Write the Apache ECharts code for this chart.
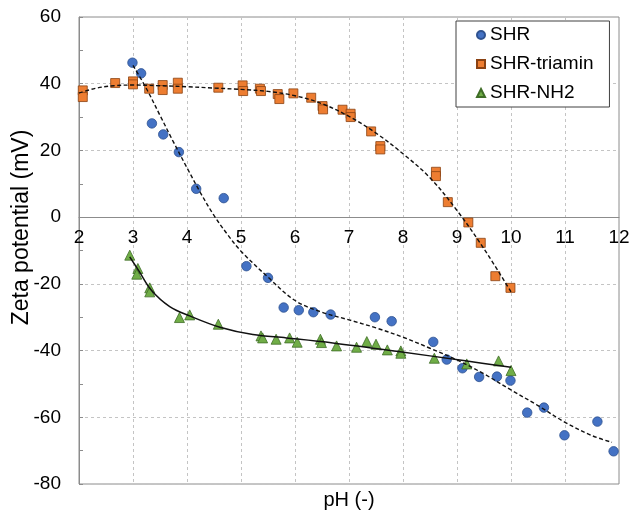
<!DOCTYPE html>
<html>
<head>
<meta charset="utf-8">
<script src="https://cdn.jsdelivr.net/npm/echarts@6/dist/echarts.min.js"></script>
<style>
html,body{margin:0;padding:0;background:#fff;}
#c{width:632px;height:510px;}
</style>
</head>
<body>
<div id="c"></div>
<script>
// ---- data ----
const seriesNames = ['SHR', 'SHR-triamin', 'SHR-NH2'];

const shrX = [2.99,3.15,3.35,3.56,3.85,4.17,4.68,5.10,5.50,5.79,6.07,6.34,6.66,7.48,7.79,8.56,8.81,9.10,9.41,9.74,9.99,10.30,10.61,10.99,11.60,11.90];
const shrY = [46.3,43.1,28.1,24.8,19.5,8.5,5.7,-14.7,-18.2,-27.1,-27.9,-28.5,-29.2,-30.0,-31.2,-37.4,-42.7,-45.3,-47.9,-47.8,-49.0,-58.6,-57.1,-65.4,-61.3,-70.2];

const triX = [2.07,2.07,2.67,3.0,3.0,3.30,3.55,3.55,3.83,3.83,4.58,5.03,5.04,5.35,5.37,5.68,5.71,5.97,6.30,6.51,6.52,6.88,7.03,7.03,7.41,7.58,7.58,8.61,8.61,8.83,9.21,9.44,9.71,9.99];
const triY = [38.0,36.0,40.2,40.7,39.8,38.5,39.6,38.1,40.3,38.5,38.8,39.5,37.8,38.5,37.8,36.9,35.4,37.1,35.8,33.3,32.3,32.2,31.0,30.0,25.7,21.3,20.3,13.6,12.3,4.5,-1.6,-7.7,-17.7,-21.2];

const nhX = [2.94,3.09,3.07,3.31,3.31,3.86,4.05,4.58,5.37,5.40,5.65,5.90,6.04,6.47,6.49,6.77,7.14,7.33,7.50,7.71,7.96,7.96,8.58,9.18,9.77,10.0];
const nhY = [-11.4,-15.4,-17.1,-21.2,-22.4,-30.1,-29.3,-32.1,-35.6,-36.2,-36.6,-36.2,-37.5,-36.6,-37.6,-38.6,-39.0,-37.3,-38.1,-39.8,-40.1,-40.8,-42.3,-44.0,-43.1,-46.0];

// trend lines
const shrTrendX = [3.0,3.25,3.5,3.75,4.0,4.25,4.5,4.75,5.0,5.5,6.0,6.5,7.0,7.5,8.0,8.5,9.0,9.5,10.0,10.5,11.0,11.5,11.87];
const shrTrendY = [45.5,38.5,30.5,22.5,14.8,7.3,0.5,-5.2,-10.2,-18.0,-25.0,-28.5,-30.8,-33.2,-36.0,-39.3,-42.8,-47.0,-51.8,-56.5,-61.5,-65.5,-67.5];

const triTrendX = [2.0,2.3,2.65,3.0,3.5,4.0,4.5,5.0,5.5,6.0,6.5,7.0,7.5,8.0,8.5,9.0,9.5,10.0];
const triTrendY = [37.2,38.6,39.4,39.6,39.4,39.1,38.7,38.3,37.7,36.4,34.0,30.2,25.2,19.0,11.8,2.0,-9.5,-22.4];

const nhTrendX = [2.94,3.12,3.34,3.68,4.05,4.61,5.22,5.84,6.7,7.88,9.12,10.0];
const nhTrendY = [-11.9,-16.4,-21.9,-26.8,-29.6,-33.0,-35.2,-36.2,-37.7,-40.2,-43.0,-45.0];

const xTicks = [2,3,4,5,6,7,8,9,10,11,12];
const yTicks = [60,40,20,0,-20,-40,-60,-80];

// ---- build ----
const zip = (a, b) => a.map((v, i) => [v, b[i]]);
const FONT = "'Liberation Sans', Arial, sans-serif";

const chart = echarts.init(document.getElementById('c'), null, {renderer: 'canvas'});

const scatterStyle = [
  {symbol: 'circle', size: 9.5, color: '#4472C4', border: '#2F528F'},
  {symbol: 'rect', size: 9, color: '#ED7D31', border: '#8a4213'},
  {symbol: 'triangle', size: 10, color: '#70AD47', border: '#3f6d27'}
];
const scatterData = [zip(shrX, shrY), zip(triX, triY), zip(nhX, nhY)];

const series = [];
seriesNames.forEach((n, i) => {
  series.push({
    name: n,
    type: 'scatter',
    symbol: scatterStyle[i].symbol,
    symbolSize: scatterStyle[i].size,
    itemStyle: {color: scatterStyle[i].color, borderColor: scatterStyle[i].border, borderWidth: 0.8, opacity: 1},
    data: scatterData[i],
    z: 3 + i,
    silent: true
  });
});

const trends = [
  {d: zip(shrTrendX, shrTrendY), type: [4, 2.5], w: 1.4},
  {d: zip(triTrendX, triTrendY), type: [4, 2.5], w: 1.4},
  {d: zip(nhTrendX, nhTrendY), type: 'solid', w: 1.5}
];
trends.forEach((t, i) => {
  series.push({
    name: seriesNames[i] + ' trend',
    type: 'line',
    data: t.d,
    smooth: 0.35,
    showSymbol: false,
    symbol: 'none',
    lineStyle: {color: '#111', width: t.w, type: t.type},
    z: 10,
    silent: true
  });
});

const option = {
  animation: false,
  backgroundColor: '#fff',
  textStyle: {fontFamily: FONT},
  grid: {
    left: 79, right: 13, top: 17, bottom: 26,
    containLabel: false,
    outerBoundsMode: 'none',
    show: true, borderColor: '#8c8c8c', borderWidth: 1, backgroundColor: 'transparent'
  },
  legend: {
    data: seriesNames,
    orient: 'vertical',
    left: 456, top: 21,
    padding: [4, 16, 4, 20],
    itemGap: 9,
    itemWidth: 8, itemHeight: 8,
    backgroundColor: '#fff',
    borderColor: '#404040', borderWidth: 1,
    textStyle: {fontFamily: FONT, fontSize: 19, color: '#000', lineHeight: 20},
    selectedMode: false
  },
  xAxis: {
    type: 'value',
    min: 2, max: 12, interval: 1,
    position: 'bottom',
    offset: -267,
    name: 'pH (-)',
    nameLocation: 'middle',
    nameGap: 273,
    nameMoveOverlap: false,
    nameTextStyle: {fontFamily: FONT, fontSize: 20, color: '#000'},
    axisLine: {show: true, onZero: false, lineStyle: {color: '#8c8c8c', width: 1}},
    axisTick: {show: false},
    axisLabel: {fontFamily: FONT, fontSize: 19, color: '#000', margin: 11,
      formatter: v => xTicks.includes(v) ? String(v) : ''},
    splitLine: {show: true, lineStyle: {color: '#c4c4c4', type: [3, 3], width: 1}}
  },
  yAxis: {
    type: 'value',
    min: -80, max: 60, interval: 20,
    name: 'Zeta potential (mV)',
    nameLocation: 'middle',
    nameRotate: 90,
    nameGap: 46,
    nameMoveOverlap: false,
    nameTextStyle: {fontFamily: FONT, fontSize: 23, color: '#000', padding: [0, 0, 0, 46]},
    axisLine: {show: true, onZero: false, lineStyle: {color: '#8c8c8c', width: 1}},
    axisTick: {show: true, inside: true, length: 4, lineStyle: {color: '#8c8c8c'}},
    minorTick: {show: true, splitNumber: 2, length: 4, lineStyle: {color: '#8c8c8c'}},
    axisLabel: {fontFamily: FONT, fontSize: 19, color: '#000', margin: 18,
      formatter: v => yTicks.includes(v) ? String(v) : ''},
    splitLine: {show: true, lineStyle: {color: '#c4c4c4', type: [3, 3], width: 1}}
  },
  series: series
};
chart.setOption(option);
</script>
</body>
</html>
